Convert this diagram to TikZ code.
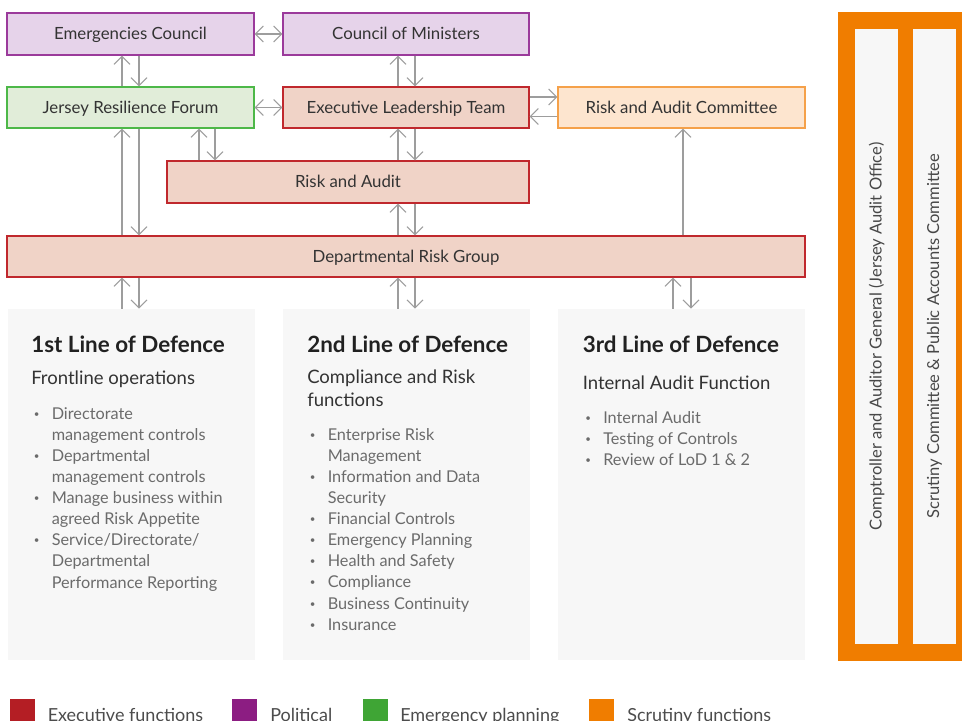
\documentclass[tikz,border=0pt]{standalone}
\usepackage{fontspec}
\setmainfont{Lato}
\usetikzlibrary{arrows.meta}
\definecolor{pfill}{HTML}{E6D3EA}
\definecolor{pline}{HTML}{9B3A9B}
\definecolor{gfill}{HTML}{E1EDD9}
\definecolor{gline}{HTML}{4DB848}
\definecolor{rfill}{HTML}{F0D3C7}
\definecolor{rline}{HTML}{C0282D}
\definecolor{ofill}{HTML}{FDE5CF}
\definecolor{oline}{HTML}{F5A14A}
\definecolor{orng}{HTML}{F07D00}
\definecolor{colbg}{HTML}{F7F7F7}
\definecolor{arrgray}{HTML}{9D9D9D}
\definecolor{txtdark}{HTML}{333333}
\definecolor{txtbul}{HTML}{6B6B6B}
\definecolor{legred}{HTML}{B41E24}
\definecolor{legpur}{HTML}{8C1D82}
\definecolor{leggrn}{HTML}{3FA535}
\newcommand{\bul}{\makebox[13.5pt][l]{\raisebox{1.5pt}{\scalebox{0.6}{•}}}}
\newcommand{\ind}{\hspace*{13.5pt}}
\newcommand{\colpar}[1]{\parbox[t]{180pt}{\raggedright #1}}
\begin{document}
\begin{tikzpicture}[x=0.75pt,y=-0.75pt,
  box/.style={draw, line width=0.8pt, inner sep=0pt, text height=9pt, text depth=0pt, font=\fontsize{12.6}{14}\selectfont, text=txtdark},
  pbox/.style={box, fill=pfill, draw=pline},
  gbox/.style={box, fill=gfill, draw=gline},
  rbox/.style={box, fill=rfill, draw=rline},
  obox/.style={box, fill=ofill, draw=oline},
  colbox/.style={fill=colbg, inner sep=0pt, minimum height={351*0.75pt}, minimum width={247*0.75pt}},
  arr/.style={draw=arrgray, line width=0.8pt, -{Straight Barb[length=6pt,width=12pt]}},
  darr/.style={draw=arrgray, line width=0.8pt, {Straight Barb[length=6pt,width=12pt]}-{Straight Barb[length=6pt,width=12pt]}},
  ttl/.style={anchor=base west, inner sep=0pt, font=\fontsize{16.8}{19}\selectfont\bfseries, text=black!87},
  sub/.style={anchor=base west, inner sep=0pt, font=\fontsize{13.9}{16.9}\selectfont, text=txtdark},
  bl/.style={anchor=base west, inner sep=0pt, font=\fontsize{12.2}{15.85}\selectfont, text=txtbul},
  legsq/.style={inner sep=0pt, minimum size={25*0.75pt}, anchor=north west},
  legtx/.style={anchor=base west, inner sep=0pt, font=\fontsize{13.5}{16}\selectfont, text=black!70},
  vtx/.style={rotate=90, inner sep=0pt, font=\fontsize{12.4}{14}\selectfont, text=black!72}
]
\useasboundingbox (0,0) rectangle (962,720);
\fill[white] (0,0) rectangle (962,720);

% boxes
\node[pbox, minimum width={247*0.75pt}, minimum height={42*0.75pt}] (ec) at (130.5,34) {Emergencies Council};
\node[pbox, minimum width={246*0.75pt}, minimum height={42*0.75pt}] (cm) at (406,34) {Council of Ministers};
\node[gbox, minimum width={247*0.75pt}, minimum height={41*0.75pt}] (jrf) at (130.5,107.5) {Jersey Resilience Forum};
\node[rbox, minimum width={246*0.75pt}, minimum height={41*0.75pt}] (elt) at (406,107.5) {Executive Leadership Team};
\node[obox, minimum width={247*0.75pt}, minimum height={41*0.75pt}] (rac) at (681.5,107.5) {Risk and Audit Committee};
\node[rbox, minimum width={362*0.75pt}, minimum height={42*0.75pt}] (ra) at (348,182) {Risk and Audit};
\node[rbox, minimum width={798*0.75pt}, minimum height={41*0.75pt}] (drg) at (406,256.5) {Departmental Risk Group};

% columns
\node[colbox] (c1) at (131,484.5) {};
\node[colbox] (c2) at (406.5,484.5) {};
\node[colbox] (c3) at (681.5,484.5) {};

% column 1
\node[ttl] (t1) at (31,352.5) {1st Line of Defence};
\node[sub] (s1) at (31,384) {Frontline operations};
\node[bl] (b1) at (33.5,419) {\colpar{\bul Directorate\\ \ind management controls\\ \bul Departmental\\ \ind management controls\\ \bul Manage business within\\ \ind agreed Risk Appetite\\ \bul Service/Directorate/\\ \ind Departmental\\ \ind Performance Reporting}};
% column 2
\node[ttl] (t2) at (307,352.5) {2nd Line of Defence};
\node[sub] (s2) at (307,383.5) {\colpar{Compliance and Risk\\ functions}};
\node[bl] (b2) at (309.5,440) {\colpar{\bul Enterprise Risk\\ \ind Management\\ \bul Information and Data\\ \ind Security\\ \bul Financial Controls\\ \bul Emergency Planning\\ \bul Health and Safety\\ \bul Compliance\\ \bul Business Continuity\\ \bul Insurance}};
% column 3
\node[ttl] (t3) at (582.5,352.5) {3rd Line of Defence};
\node[sub] (s3) at (582.5,389) {Internal Audit Function};
\node[bl] (b3) at (585,423) {\colpar{\bul Internal Audit\\ \bul Testing of Controls\\ \bul Review of LoD 1 \& 2}};

% scrutiny panel
\fill[orng] (838,12) rectangle (962,661);
\node[fill=colbg, inner sep=0pt, minimum width={43*0.75pt}, minimum height={615*0.75pt}] (p1) at (876.5,336.5) {};
\node[fill=colbg, inner sep=0pt, minimum width={43*0.75pt}, minimum height={615*0.75pt}] (p2) at (934.5,336.5) {};
\node[vtx] at (p1.center) {Comptroller and Auditor General (Jersey Audit Office)};
\node[vtx] at (p2.center) {Scrutiny Committee \& Public Accounts Committee};

% x / y helper coordinates
\coordinate (xa) at (122,0);
\coordinate (xb) at (139,0);
\coordinate (xc) at (199,0);
\coordinate (xd) at (215,0);
\coordinate (xe) at (398,0);
\coordinate (xf) at (415,0);
\coordinate (xg) at (673,0);
\coordinate (xh) at (691,0);
\coordinate (xi) at (683,0);
\coordinate (ya) at (0,97);
\coordinate (yb) at (0,116.5);

% connectors
\draw[darr] (ec.east) -- (cm.west);
\draw[darr] (jrf.east) -- (elt.west);
\draw[arr] (jrf.north -| xa) -- (ec.south -| xa);
\draw[arr] (ec.south -| xb) -- (jrf.north -| xb);
\draw[arr] (elt.north -| xe) -- (cm.south -| xe);
\draw[arr] (cm.south -| xf) -- (elt.north -| xf);
\draw[arr] (elt.east |- ya) -- (rac.west |- ya);
\draw[arr] (rac.west |- yb) -- (elt.east |- yb);
\draw[arr] (drg.north -| xa) -- (jrf.south -| xa);
\draw[arr] (jrf.south -| xb) -- (drg.north -| xb);
\draw[arr] (ra.north -| xc) -- (jrf.south -| xc);
\draw[arr] (jrf.south -| xd) -- (ra.north -| xd);
\draw[arr] (ra.north -| xe) -- (elt.south -| xe);
\draw[arr] (elt.south -| xf) -- (ra.north -| xf);
\draw[arr] (drg.north -| xe) -- (ra.south -| xe);
\draw[arr] (ra.south -| xf) -- (drg.north -| xf);
\draw[arr] (drg.north -| xi) -- (rac.south -| xi);
\draw[arr] (c1.north -| xa) -- (drg.south -| xa);
\draw[arr] (drg.south -| xb) -- (c1.north -| xb);
\draw[arr] (c2.north -| xe) -- (drg.south -| xe);
\draw[arr] (drg.south -| xf) -- (c2.north -| xf);
\draw[arr] (c3.north -| xg) -- (drg.south -| xg);
\draw[arr] (drg.south -| xh) -- (c3.north -| xh);

% legend
\node[legsq, fill=legred] (l1) at (10,699) {};
\node[legtx] (lt1) at (47.5,721) {Executive functions};
\node[legsq, fill=legpur] (l2) at (232,699) {};
\node[legtx] (lt2) at (270,721) {Political};
\node[legsq, fill=leggrn] (l3) at (362.5,699) {};
\node[legtx] (lt3) at (400,721) {Emergency planning};
\node[legsq, fill=orng] (l4) at (589,699) {};
\node[legtx] (lt4) at (627,721) {Scrutiny functions};
\end{tikzpicture}
\end{document}
